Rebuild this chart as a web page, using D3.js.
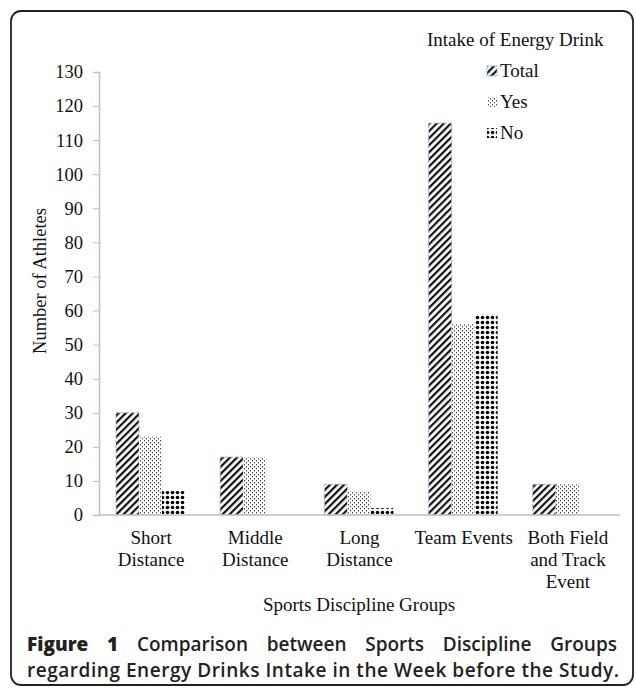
<!DOCTYPE html>
<html>
<head>
<meta charset="utf-8">
<script src="https://cdn.jsdelivr.net/npm/d3@7"></script>
<style>
  body { margin: 0; background: #fff; }
  svg { display: block; }
  .serif { font-family: "Liberation Serif", "Times New Roman", serif; }
</style>
</head>
<body>
<svg id="chart"></svg>
<script>
const categories = [["Short", "Distance"], ["Middle", "Distance"], ["Long", "Distance"], ["Team Events"], ["Both Field", "and Track", "Event"]];
const series = ["Total", "Yes", "No"];
const totalValues = [30, 17, 9, 115, 9];
const yesValues = [23, 17, 7, 56, 9];
const noValues = [7, 0, 2, 59, 0];
const yTicks = d3.range(0, 131, 10);

const W = 636, H = 689;
const svg = d3.select("#chart").attr("width", W).attr("height", H);

// frame
svg.append("rect")
  .attr("x", 11).attr("y", 11)
  .attr("width", 622).attr("height", 674)
  .attr("rx", 10).attr("ry", 10)
  .attr("fill", "white")
  .attr("stroke", "#222")
  .attr("stroke-width", 1.8);

// patterns
const defs = svg.append("defs");

const pTotal = defs.append("pattern")
  .attr("id", "pat-total")
  .attr("patternUnits", "userSpaceOnUse")
  .attr("width", 5).attr("height", 5)
  .attr("patternTransform", "rotate(45)");
pTotal.append("rect").attr("width", 5).attr("height", 5).attr("fill", "white");
pTotal.append("rect").attr("x", 0).attr("y", 0).attr("width", 2.2).attr("height", 5).attr("fill", "#111");

const pYes = defs.append("pattern")
  .attr("id", "pat-yes")
  .attr("patternUnits", "userSpaceOnUse")
  .attr("width", 4).attr("height", 4);
pYes.append("rect").attr("width", 4).attr("height", 4).attr("fill", "white");
pYes.append("rect").attr("x", 0).attr("y", 0).attr("width", 1).attr("height", 1.4).attr("fill", "#444");
pYes.append("rect").attr("x", 2).attr("y", 2).attr("width", 1).attr("height", 1.4).attr("fill", "#444");

const pNo = defs.append("pattern")
  .attr("id", "pat-no")
  .attr("patternUnits", "userSpaceOnUse")
  .attr("width", 5).attr("height", 5);
pNo.append("rect").attr("width", 5).attr("height", 5).attr("fill", "white");
pNo.append("circle").attr("cx", 2.5).attr("cy", 2.5).attr("r", 1.8).attr("fill", "#000");

const fills = { Total: "url(#pat-total)", Yes: "url(#pat-yes)", No: "url(#pat-no)" };
const valuesBySeries = { Total: totalValues, Yes: yesValues, No: noValues };

// scales
const x0 = d3.scaleBand()
  .domain(d3.range(categories.length))
  .range([99, 620]);

const x1 = d3.scaleBand()
  .domain(series)
  .range([17, 86]);

const y = d3.scaleLinear()
  .domain([0, 130])
  .range([515, 72]);

// y axis
const yAxis = svg.append("g")
  .attr("transform", "translate(99,0)")
  .call(d3.axisLeft(y).tickValues(yTicks).tickSize(6).tickPadding(10));
yAxis.select(".domain").attr("stroke", "#bfbfbf").attr("stroke-width", 1.5);
yAxis.selectAll(".tick line").attr("stroke", "#bfbfbf");
yAxis.selectAll(".tick text")
  .attr("class", "serif")
  .style("font-size", "18.5px")
  .attr("fill", "#111");

// bars
series.forEach(s => {
  svg.append("g")
    .selectAll("rect")
    .data(valuesBySeries[s].map((v, i) => ({ i, v })))
    .join("rect")
    .attr("x", d => x0(d.i) + x1(s))
    .attr("y", d => y(d.v))
    .attr("width", x1.bandwidth())
    .attr("height", d => y(0) - y(d.v))
    .attr("fill", fills[s])
    .attr("stroke", s === "Total" ? "#8fb0dc" : "none")
    .attr("stroke-width", 1)
    .attr("stroke-dasharray", "3,2");
});

// x axis line
svg.append("line")
  .attr("x1", 99).attr("x2", 620)
  .attr("y1", y(0)).attr("y2", y(0))
  .attr("stroke", "#bfbfbf")
  .attr("stroke-width", 1.5);

// category labels
categories.forEach((lines, i) => {
  const t = svg.append("text")
    .attr("class", "serif")
    .attr("text-anchor", "middle")
    .style("font-size", "19px")
    .attr("fill", "#111");
  lines.forEach((ln, k) => {
    t.append("tspan")
      .attr("x", x0(i) + x0.bandwidth() / 2)
      .attr("y", 544 + k * 22)
      .text(ln);
  });
});

// axis titles
svg.append("text")
  .attr("class", "serif")
  .attr("transform", "translate(46,281) rotate(-90)")
  .attr("text-anchor", "middle")
  .style("font-size", "18.5px")
  .attr("fill", "#111")
  .text("Number of Athletes");

svg.append("text")
  .attr("class", "serif")
  .attr("x", 359).attr("y", 611)
  .attr("text-anchor", "middle")
  .style("font-size", "19px")
  .attr("fill", "#111")
  .text("Sports Discipline Groups");

// legend
svg.append("text")
  .attr("class", "serif")
  .attr("x", 427).attr("y", 46)
  .style("font-size", "19px")
  .attr("fill", "#111")
  .text("Intake of Energy Drink");

series.forEach((s, k) => {
  const ly = 71 + k * 31;
  svg.append("rect")
    .attr("x", 487).attr("y", ly - 5)
    .attr("width", 10).attr("height", 10)
    .attr("fill", fills[s])
    .attr("stroke", s === "Total" ? "#8fb0dc" : "none")
    .attr("stroke-dasharray", "2,1");
  svg.append("text")
    .attr("class", "serif")
    .attr("x", 500).attr("y", ly + 6)
    .style("font-size", "19px")
    .attr("fill", "#111")
    .text(s);
});

// caption
const capFont = "'Open Sans', 'Noto Sans', sans-serif";
const capLeft = 27, capRight = 617;
const words1 = [["Figure", 800], ["1", 800], ["Comparison", 600], ["between", 600], ["Sports", 600], ["Discipline", 600], ["Groups", 600]];

// justified first line: place each word, spread gaps evenly
const wordNodes = words1.map(([w, fw]) => svg.append("text")
  .attr("y", 651)
  .style("font-family", capFont)
  .style("font-size", "19px")
  .style("font-weight", fw)
  .attr("fill", "#222")
  .text(w));
const widths = wordNodes.map(n => n.node().getComputedTextLength());
const gap = (capRight - capLeft - d3.sum(widths)) / (widths.length - 1);
let cx = capLeft;
wordNodes.forEach((n, i) => {
  n.attr("x", cx);
  cx += widths[i] + gap;
});

const cap2 = svg.append("text")
  .attr("x", capLeft).attr("y", 677)
  .style("font-family", capFont)
  .style("font-size", "19px")
  .style("font-weight", "600")
  .attr("fill", "#222")
  .text("regarding Energy Drinks Intake in the Week before the Study.");
cap2.attr("textLength", 592).attr("lengthAdjust", "spacing");
</script>
</body>
</html>
